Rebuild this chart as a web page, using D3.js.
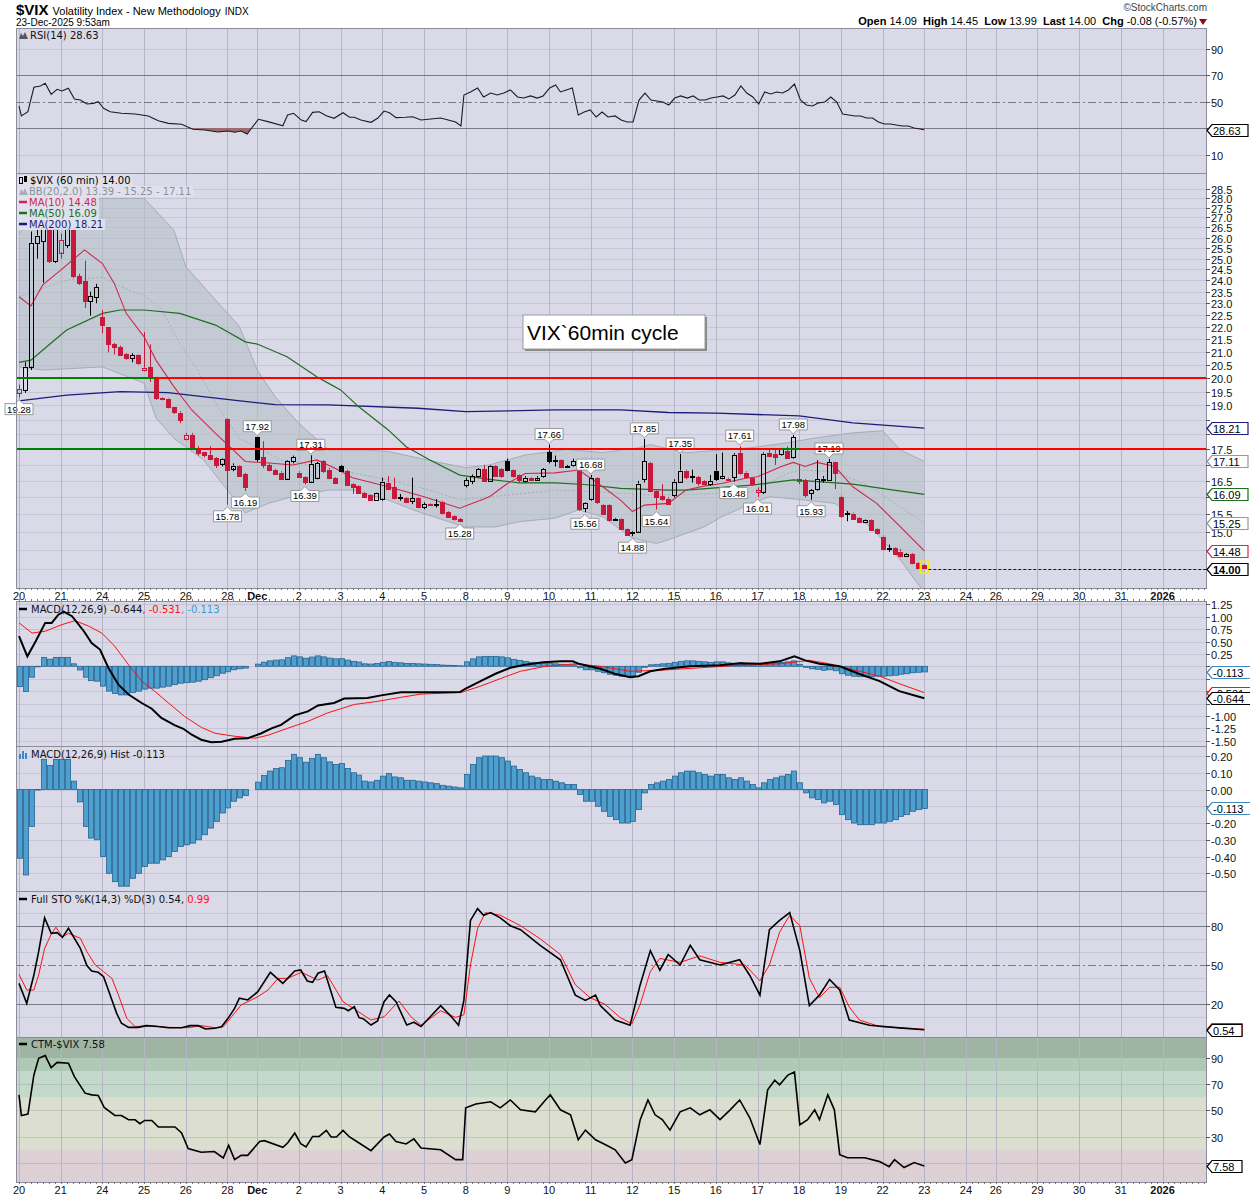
<!DOCTYPE html>
<html><head><meta charset="utf-8">
<script src="https://cdn.jsdelivr.net/npm/d3@7"></script>
<style>body{margin:0;background:#fff}svg{display:block}</style>
</head><body>
<svg id="c" width="1250" height="1200"></svg>
<script>
// ---------------- DATA ----------------
const dayLabels = ['20','21','24','25','26','28','Dec','2','3','4','5','8','9','10','11','12','15','16','17','18','19','22','23','24','26','29','30','31','2026'];
const daySlots  = [0,7,14,21,28,35,40,47,54,61,68,75,82,89,96,103,110,117,124,131,138,145,152,159,164,171,178,185,192];
const boldLabels = ['Dec','2026'];

const prevClose0 = 19.9;
const opens = [19.45,19.56,20.43,25.75,25.8,26.4,24.85,25.3,25.6,26.4, 24.2,23.96,23.07,23.25,22.43,21.99,21.3,21.2,20.9,20.76,
 20.88,20.3,20.4,20.0,19.28,19.22,18.93,18.75,17.86,17.99, 17.5,17.4,17.33,17.21,17.04,18.53,16.9,16.98,16.71,null,
 17.9,17.24,17.0,16.85,16.76,16.57,17.1,16.76,16.63,16.48, 16.6,17.12,16.85,16.6,16.97,16.81,16.4,16.34,16.14,16.06,
 15.92,15.96,16.45,16.3,16.0,15.98,15.9,15.98,15.7,15.8, 15.79,15.87,15.58,15.45,15.37,16.37,16.5,16.64,16.87,16.5,
 16.98,16.87,17.11,16.84,16.67,16.5,16.6,16.55,16.64,17.4, 17.11,17.16,16.97,16.99,17.1,15.66,15.96,16.6,15.78,15.78,
 15.38,15.36,15.09,15.0,15.01,16.53,17.07,16.2,16.03,15.96, 16.07,16.48,16.82,16.64,16.62,16.5,16.4,16.82,16.6,16.57,
 16.62,17.39,16.76,16.6,16.17,16.17,17.39,17.36,17.33,17.45, 17.23,16.48,16.53,16.12,16.25,16.57,16.53,17.08,16.02,15.5,
 15.52,15.4,15.28,15.33,15.07,14.87,14.56,14.55,14.46,14.34, 14.4,14.15,14.09];
const highs = [19.75,20.6,26.3,26.5,26.8,26.7,26.6,26.2,26.6,26.5, 24.3,24.9,23.5,23.85,22.71,22.0,21.35,21.25,20.95,20.95,
 20.9,21.8,21.3,20.05,19.3,19.25,18.95,18.8,18.05,18.05, 17.6,17.42,17.6,17.25,17.22,18.55,17.05,17.0,16.75,null,
 17.92,17.77,17.05,16.88,16.8,17.15,17.3,16.8,16.65,17.31, 17.1,17.15,16.9,16.62,17.0,16.85,16.42,16.36,16.16,16.08,
 16.14,16.6,16.65,16.6,16.1,16.0,16.6,16.0,15.85,15.82, 15.95,15.9,15.6,15.47,15.4,16.6,16.7,16.9,17.0,17.0,
 17.0,16.9,17.2,16.86,16.7,16.65,16.62,16.65,16.9,17.66, 17.3,17.18,17.0,17.2,17.12,15.85,16.68,16.62,15.8,15.8,
 15.4,15.38,15.1,15.02,16.5,17.85,17.1,16.22,16.4,16.0, 16.55,17.35,16.85,16.85,16.65,16.52,16.68,17.35,17.4,16.6,
 17.38,17.61,16.8,16.62,16.3,17.4,17.5,17.55,17.55,17.6, 17.98,17.0,16.56,16.25,17.15,16.65,17.19,17.1,16.05,15.6,
 15.55,15.42,15.35,15.35,15.1,14.9,14.65,14.57,14.52,14.42, 14.42,14.17,14.12];
const lows = [19.28,19.45,20.3,25.0,23.9,24.8,24.8,25.0,25.5,24.1, 23.8,22.8,22.47,23.0,21.74,20.98,20.9,20.85,20.7,20.6,
 20.5,20.25,19.85,19.2,19.18,18.9,18.7,18.38,17.8,17.5, 17.3,17.25,17.15,16.9,16.95,15.78,16.8,16.62,16.19,null,
 17.1,16.9,16.8,16.68,16.55,16.55,17.05,16.6,16.39,16.45, 16.55,16.75,16.55,16.4,16.78,16.35,16.1,16.1,16.0,15.9,
 15.9,15.9,16.25,15.94,15.9,15.83,15.8,15.68,15.65,15.75, 15.7,15.5,15.4,15.32,15.28,16.3,16.4,16.6,16.48,16.48,
 16.65,16.6,16.8,16.6,16.45,16.45,16.5,16.5,16.6,17.05, 16.95,16.9,16.93,16.95,15.6,15.56,15.9,15.8,15.5,15.3,
 15.33,15.05,14.9,14.88,14.98,16.45,16.15,15.64,15.9,15.78, 16.0,16.45,16.55,16.45,16.35,16.38,16.35,16.5,16.55,16.5,
 16.48,16.7,16.58,16.35,16.01,16.1,17.25,17.0,17.3,17.2, 17.2,16.4,16.0,15.93,16.2,16.45,16.5,16.25,15.4,15.3,
 15.35,15.25,15.26,15.03,14.93,14.5,14.45,14.38,14.3,14.32, 14.12,14.0,13.99];
const closes = [19.6,20.43,25.75,26.1,26.5,24.85,26.4,25.9,26.4,24.2, 23.9,23.07,23.3,23.7,22.1,21.3,21.2,20.9,20.76,20.88,
 20.58,20.39,20.0,19.28,19.23,18.93,18.75,18.52,17.99,17.54, 17.37,17.3,17.2,17.0,17.2,16.84,16.98,16.68,16.3,null,
 17.18,16.98,16.85,16.71,16.57,17.13,17.24,16.63,16.48,17.04, 17.06,16.8,16.6,16.46,16.81,16.37,16.32,16.14,16.03,15.92,
 16.12,16.48,16.27,15.96,15.98,15.85,15.98,15.7,15.8,15.77, 15.78,15.55,15.43,15.35,15.3,16.53,16.64,16.87,16.5,16.98,
 16.67,16.64,16.84,16.64,16.5,16.6,16.55,16.6,16.87,17.11, 17.15,16.94,16.96,17.11,15.66,15.82,16.6,15.86,15.53,15.34,
 15.37,15.07,14.92,14.99,16.42,17.11,16.2,16.02,15.95,15.81, 16.48,16.82,16.62,16.63,16.42,16.4,16.5,16.57,16.65,16.53,
 17.33,16.76,16.62,16.42,16.22,17.36,17.3,17.27,17.5,17.23, 17.9,16.55,16.07,16.22,16.55,16.56,17.08,16.72,15.45,15.53,
 15.38,15.28,15.33,15.06,14.97,14.55,14.56,14.4,14.34,14.4, 14.15,14.03,14.00];

const highLabels = [[40,17.92],[49,17.31],[89,17.66],[96,16.68],[105,17.85],[111,17.35],[121,17.61],[130,17.98],[136,17.19]];
const lowLabels  = [[0,19.28],[35,15.78],[38,16.19],[48,16.39],[74,15.28],[95,15.56],[103,14.88],[107,15.64],[120,16.48],[124,16.01],[133,15.93]];

const bbUpper = [[0,26.2],[3,27.12],[7,27.74],[14,27.98],[21,27.98],[26,26.37],[28,24.63],[33,23.14],[37,22.03],[40,20.3],[43,19.31],[47,18.37],[52,17.48],[58,17.48],[62,17.43],[70,17.1],[75,16.91],[79,17.0],[85,17.32],[92,17.5],[98,17.4],[104,17.55],[106,17.66],[112,17.39],[123,17.56],[129,17.72],[134,17.89],[140,18.05],[145,18.12],[148,17.48],[152,17.11]];
const bbLower = [[0,20.42],[4,20.3],[14,20.42],[21,19.81],[23,18.56],[26,17.87],[31,17.16],[35,16.22],[38,15.54],[42,15.83],[47,16.07],[52,16.22],[56,16.22],[62,15.92],[67,15.58],[73,15.24],[75,15.14],[80,15.14],[84,15.29],[90,15.39],[94,15.63],[98,15.43],[103,14.83],[107,14.68],[109,14.78],[115,15.14],[118,15.43],[123,15.82],[126,16.02],[132,15.92],[137,15.82],[143,15.14],[148,14.23],[152,13.39]];
const bbMid = [[0,23.28],[8,24.02],[14,24.14],[19,23.5],[21,23.36],[24,22.71],[27,21.34],[30,20.3],[33,19.09],[37,17.87],[40,17.56],[44,17.16],[52,16.9],[62,16.53],[69,16.22],[74,15.92],[79,16.02],[85,16.12],[90,16.22],[98,16.16],[106,16.07],[115,16.1],[123,16.17],[129,16.73],[131,16.84],[137,16.79],[143,16.32],[148,15.71],[152,15.25]];
const ma10 = [[0,23.28],[2,22.88],[4,23.8],[7,24.47],[11,25.41],[14,24.77],[16,23.87],[18,22.57],[21,21.6],[23,20.68],[26,19.68],[29,18.84],[33,18.03],[36,17.48],[38,17.11],[42,17.06],[46,17.0],[50,17.16],[53,16.9],[56,16.6],[62,16.32],[68,16.02],[74,15.68],[79,16.02],[82,16.42],[85,16.73],[90,16.75],[94,16.84],[98,16.32],[101,15.92],[103,15.58],[105,15.77],[109,15.82],[112,16.22],[115,16.34],[118,16.42],[122,16.58],[124,16.63],[128,16.95],[130,17.08],[132,16.95],[134,17.08],[137,16.95],[140,16.32],[144,15.82],[148,15.14],[152,14.48]];
const ma50 = [[0,20.59],[2,20.68],[5,21.27],[8,21.88],[14,22.57],[17,22.71],[21,22.71],[27,22.57],[33,22.08],[38,21.4],[40,21.31],[45,20.81],[50,20.05],[52,19.8],[54,19.56],[57,18.96],[62,18.15],[65,17.59],[69,17.16],[74,16.68],[79,16.55],[84,16.44],[90,16.44],[95,16.39],[101,16.27],[109,16.22],[112,16.22],[123,16.37],[130,16.53],[140,16.4],[146,16.24],[152,16.09]];
const ma200 = [[0,19.16],[8,19.37],[17,19.5],[25,19.46],[36,19.19],[43,19.03],[52,19.02],[67,18.9],[75,18.78],[90,18.84],[101,18.84],[109,18.75],[117,18.73],[131,18.63],[140,18.39],[152,18.21]];
const redLevels = [20.0, 17.5];
const greenSegs = [[0,23,20.0],[0,30,17.5],[128,131,17.5]];

const rsi = [[0,46.6],[0.4,39.1],[1.5,42.3],[2.5,60.7],[3.6,61.7],[4.4,63.7],[5.4,55.4],[6.4,59.2],[7.2,57.9],[8.3,60.0],[9.3,51.9],[10.3,51.1],[11.4,48.1],[12.5,48.6],[13.3,49.8],[14.2,44.9],[15.3,42.3],[17.2,41.1],[19.5,40.6],[21.7,39.1],[23.4,35.5],[25.1,33.5],[27.3,32.8],[29.2,29.0],[31.2,28.5],[33.4,27.0],[35.1,27.7],[36.2,26.8],[37.3,27.7],[38.3,25.5],[40.2,36.6],[41.8,34.8],[44.3,31.7],[45.1,39.8],[46.1,41.1],[47.4,36.0],[48.2,34.8],[49.3,41.8],[50.4,42.3],[51.6,39.3],[52.9,37.3],[54.4,41.5],[55.5,38.1],[56.3,38.1],[57.4,36.0],[59.1,34.3],[60.2,37.3],[61.3,42.8],[62.2,41.5],[63.3,37.8],[64.9,38.1],[66.1,38.5],[67.5,36.0],
 [70.8,37.5],[73.3,34.5],[74.2,31.5],[74.7,54.9],[75.8,57.2],[77.0,60.2],[78.0,53.4],[79.2,56.4],[80.3,54.9],[81.4,56.4],[82.5,58.7],[83.7,53.4],[84.7,52.6],[85.9,54.2],[87.0,52.6],[88.0,54.2],[89.1,60.2],[90.1,62.5],[90.9,57.2],[91.9,58.7],[92.9,60.2],[93.9,39.8],[94.9,42.1],[95.9,43.6],[96.9,38.3],[97.9,42.1],[98.9,38.3],[100.1,39.1],[101.1,36.0],[102.1,34.5],[103.1,34.5],[104.1,51.1],[105.1,56.4],[106.1,51.1],[107.1,50.4],[108.1,49.6],[109.1,47.4],[110.1,52.6],[111.1,54.2],[112.2,52.6],[113.2,54.2],[114.2,51.1],[115.2,51.1],[116.2,52.6],[117.2,53.4],[118.2,54.2],[119.2,51.9],[120.2,54.9],[121.2,61.7],[122.2,56.4],[123.2,53.4],[124.2,48.1],[125.2,57.2],[126.2,55.7],[127.2,57.2],[128.2,56.4],[129.2,58.7],[130.2,63.2],[131.2,51.1],[132.2,47.4],[133.2,46.6],[134.2,48.9],[135.3,49.6],[136.3,53.4],[137.3,49.6],[138.3,40.6],[139.3,39.8],[140.3,39.1],[141.3,39.1],[142.3,37.5],[143.3,37.5],[144.3,34.5],[145.3,33.0],[146.3,33.0],[147.3,32.3],[148.3,31.5],[149.3,31.5],[150.3,30.0],[151.3,29.2],[152,28.63]];

const macdLine = [[0,0.606],[1.4,0.20],[2.8,0.505],[4.4,0.875],[5.5,0.875],[6.6,1.04],[7.5,1.1],[8.9,1.01],[10.9,0.707],[12.2,0.47],[13.6,0.337],[15,-0.03],[16.7,-0.37],[18.4,-0.57],[20.6,-0.74],[22.3,-0.855],[23.9,-1.04],[26.2,-1.19],[27.6,-1.26],[29,-1.38],[30.6,-1.48],[32.3,-1.53],[34,-1.52],[36.2,-1.46],[38.4,-1.45],[40.7,-1.35],[42.4,-1.25],[44,-1.18],[46.3,-0.99],[48.5,-0.91],[50.2,-0.79],[52.9,-0.74],[54.6,-0.65],[58.5,-0.64],[60.8,-0.586],[64.1,-0.525],[67.5,-0.525],[74,-0.52],[75,-0.45],[77.5,-0.3],[80,-0.15],[82.5,-0.03],[85,0.03],[88,0.08],[91,0.1],[93,0.1],[94,0.05],[97.6,-0.05],[100,-0.15],[102.6,-0.22],[104,-0.2],[106,-0.1],[108.5,-0.05],[112.7,0.0],[117.7,0.02],[121,0.06],[124.4,0.05],[127.7,0.1],[130.2,0.2],[132,0.12],[134.4,0.05],[137.8,0.0],[141,-0.15],[144.5,-0.3],[147.8,-0.5],[152,-0.644]];
const signalLine = [[0,0.875],[2.2,0.67],[4.4,0.707],[7.2,0.84],[9.4,0.92],[11.7,0.81],[13.9,0.67],[16.1,0.40],[18.4,0.03],[20.6,-0.30],[22.8,-0.505],[25.1,-0.74],[27.8,-1.01],[30.6,-1.23],[32.9,-1.35],[36.2,-1.41],[39.6,-1.45],[41.8,-1.39],[45.1,-1.25],[48.5,-1.11],[51.8,-0.94],[56.3,-0.77],[60.2,-0.707],[64.1,-0.626],[67.5,-0.56],[74.2,-0.53],[77.5,-0.4],[80.8,-0.25],[84.2,-0.1],[88.4,0.0],[93.4,0.05],[97.6,0.0],[102.6,-0.1],[107.6,-0.08],[114.3,-0.03],[121,0.02],[127.7,0.05],[132.7,0.12],[136.1,0.05],[139.4,-0.05],[144.5,-0.2],[147.8,-0.35],[152,-0.531]];
const hist = [-0.41,-0.51,-0.22,0,0.18,0.144,0.18,0.18,0.18,0.05, -0.074,-0.22,-0.29,-0.30,-0.40,-0.50,-0.55,-0.577,-0.577,-0.53,
 -0.50,-0.46,-0.44,-0.44,-0.42,-0.40,-0.37,-0.34,-0.33,-0.32, -0.30,-0.27,-0.23,-0.19,-0.14,-0.11,-0.07,-0.05,-0.036,null,
 0.044,0.084,0.11,0.125,0.13,0.174,0.21,0.19,0.163,0.186, 0.21,0.19,0.165,0.15,0.155,0.125,0.10,0.086,0.05,0.045,
 0.055,0.08,0.095,0.075,0.07,0.055,0.055,0.05,0.045,0.04, 0.035,0.025,0.02,0.015,0.01,0.09,0.15,0.19,0.2,0.2,
 0.2,0.19,0.17,0.14,0.12,0.1,0.08,0.07,0.06,0.06, 0.05,0.04,0.03,0.03,-0.03,-0.07,-0.07,-0.1,-0.13,-0.16,
 -0.18,-0.2,-0.2,-0.19,-0.12,-0.02,0.03,0.04,0.05,0.06, 0.08,0.1,0.11,0.11,0.1,0.09,0.08,0.09,0.09,0.07,
 0.06,0.07,0.05,0.03,0.01,0.04,0.06,0.07,0.08,0.09, 0.11,0.04,-0.02,-0.05,-0.06,-0.08,-0.07,-0.09,-0.15,-0.18,
 -0.2,-0.21,-0.21,-0.21,-0.2,-0.2,-0.19,-0.18,-0.16,-0.15, -0.13,-0.12,-0.113];

const stoK = [[0,36.0],[1.3,20.8],[2.5,42.4],[3.3,60.2],[4.3,86.1],[5.4,74.2],[6.4,74.7],[7.3,71.1],[8.3,78.0],[9.3,70.4],[10.3,62.7],[11.4,49.5],[12.2,45.4],[13.3,44.4],[14.2,41.1],[15.3,27.1],[16.4,13.1],[17.2,5.5],[18.4,2.4],[20,2.4],[21.4,3.7],[23.3,3.1],[25.1,2.1],[27.3,2.1],[28.7,3.7],[30.1,3.7],[31.3,1.1],[32.9,1.7],[34,2.9],[35.1,9.3],[36.2,16.9],[37.0,24.6],[38.4,23.3],[40.1,29.6],[42.2,44.4],[44.3,36.0],[46.3,45.4],[47.3,46.2],[48.4,37.8],[49.3,36.8],[50.2,43.7],[51.3,45.4],[53.2,17.7],[54.6,16.9],[55.3,15.1],[56.3,18.2],[57.1,9.8],[57.8,9.0],[59.1,4.2],[60.2,7.3],[61.3,22.0],[62.2,27.1],[63.3,22.0],[65.1,4.2],[66.3,6.3],[67.5,3],
 [70.8,19],[72.5,11],[73.8,4],[74.7,23],[75.8,84],[77.0,93],[78.0,88],[79.2,90],[80.8,86],[82.5,80],[84.2,77],[87.5,65],[90.9,54],[93.4,27],[95.1,23],[96.8,27],[97.6,19],[100.1,8],[102.6,4],[104.3,35],[106.0,61],[107.6,46],[109.0,58],[111.0,50],[112.7,65],[114.3,54],[117.7,50],[121.0,54],[122.7,42],[124.4,27],[126.0,77],[127.7,84],[129.4,90],[131.1,61],[132.7,19],[134.4,27],[136.1,39],[137.8,31],[139.4,8],[142.8,4],[147.8,2],[152,0.54]];
const stoD = [[0,42.9],[1.3,30.9],[2.5,30.9],[3.3,42.4],[4.3,62.7],[5.4,73.4],[6.2,78.8],[7.3,71.5],[8.3,74.2],[10.3,70.4],[11.4,60.2],[12.8,50.0],[14.2,44.9],[15.6,39.8],[16.7,27.1],[18.1,9.3],[19.5,2.9],[21.7,3.7],[25.1,2.4],[28.4,2.1],[30.6,3.7],[32.9,2.1],[34.3,2.9],[35.7,10.5],[37.3,19.5],[40.1,25.8],[41.8,30.9],[43.5,39.8],[45.1,39.8],[47.4,44.4],[50.2,38.5],[51.8,41.8],[54.4,22.0],[56.3,16.4],[59.1,8.0],[61.3,10.5],[63.8,22.5],[65.8,10.5],[67.5,4],
 [70.8,15],[73.3,10],[74.7,12],[75.8,50],[77.0,78],[78.3,90],[80.8,88],[84.2,80],[87.5,70],[90.9,58],[93.4,35],[95.9,25],[98.4,20],[100.9,10],[102.9,5],[104.3,20],[106.0,45],[107.6,55],[111.0,52],[114.3,57],[117.7,52],[121.9,50],[124.4,38],[126.0,50],[127.7,75],[129.4,88],[131.1,80],[132.7,40],[134.4,25],[136.1,33],[137.8,33],[139.4,18],[141.1,8],[144.5,3],[152,0.99]];
const ctm = [[0,61.9],[0.4,46.2],[1.5,47.2],[2.5,77.1],[3.3,89.8],[4.4,91.8],[5.4,82.6],[6.4,86.7],[8.3,86.0],[9.3,75.8],[11.1,63.2],[12.2,61.9],[13.3,61.4],[14.3,52.3],[16.1,46.2],[17.2,46.2],[18.4,42.9],[19.5,42.9],[20.3,39.9],[21.1,42.4],[22.3,42.4],[23.4,37.4],[26.2,37.4],[27.3,32.8],[28.4,20.9],[30.6,18.1],[32.8,18.7],[34.3,13.8],[35.2,23.4],[36.2,12.5],[37.3,15.8],[38.4,15.8],[40.4,26.4],[41.2,27.0],[44.3,21.9],[45.1,25.2],[46.3,32.8],[47.3,24.7],[48.2,22.2],[49.3,30.2],[50.4,30.2],[51.6,34.8],[52.4,29.8],[53.3,29.8],[54.4,34.8],[55.5,29.8],[57.1,25.2],[59.1,19.4],[61.3,29.8],[62.2,32.0],[63.3,26.4],[65.0,24.5],[66.3,28.3],[67.5,21.4],
 [70.8,20],[73.3,12.5],[74.5,12.5],[75.0,52],[76.7,55],[79.2,56.6],[80.8,52],[82.5,58],[84.2,50.5],[86.7,49],[88.4,58],[89.2,62],[90.9,50.5],[92.6,46.7],[93.9,27.7],[95.1,35],[96.8,27.7],[98.4,24],[100.1,20],[101.8,10],[102.9,12.5],[104.3,43],[105.6,58],[106.8,46.7],[108.0,43],[109.3,35],[111.0,49],[112.7,52],[114.3,46.7],[116.0,50.5],[117.7,43],[119.4,50.5],[121.0,58],[122.7,44.4],[124.4,24],[125.7,65.7],[126.9,73],[127.7,69.5],[129.1,77],[130.2,79.4],[131.1,39],[132.4,43],[133.6,50.5],[134.4,43],[135.8,62],[136.9,50.5],[137.8,16.3],[139.1,14],[142.0,14],[144.5,11],[146.1,7.2],[147.0,12.5],[148.6,6.5],[150.3,10.3],[152,7.58]];
const ctmZones = [106,90,80,60,20,-5];

const rsiTicks = [90,70,50,30,10];
const priceTicks = d3.range(14,28.51,0.5);
const macdTicks = d3.range(-1.5,1.26,0.25);
const histTicks = [0.2,0.1,0,-0.1,-0.2,-0.3,-0.4,-0.5];
const stoTicks = [80,50,20];
const ctmTicks = [90,70,50,30,10];

// ---------------- LAYOUT ----------------
const svg = d3.select('#c');
const FA = '"Liberation Sans", Arial, sans-serif';
const FL = '"DejaVu Sans", Verdana, sans-serif';
const BG = '#d9d9e8', HG = '#c6c6d8', VG = '#b5b5c8', BORDER = '#8c8c9c';
const RED = '#c8193c';
const L = 16, R = 1206;
const P = {rsi:[28,173], price:[173,588], macd:[601,746], hist:[746,891], sto:[891,1037], ctm:[1037,1182]};

const x = d3.scaleLinear().domain([0,152]).range([19,924.3]);
const yR = d3.scaleLinear().domain([30,70]).range([128,75]);
const yP = d3.scaleLog().domain([14,20]).range([568.8,378]);
const yM = d3.scaleLinear().domain([1.25,-1.5]).range([604.3,740.7]);
const yH = d3.scaleLinear().domain([0.2,-0.5]).range([756,873.3]);
const yS = d3.scaleLinear().domain([80,20]).range([925.7,1004.3]);
const yC = d3.scaleLinear().domain([90,30]).range([1058,1136.7]);

svg.append('rect').attr('width',1250).attr('height',1200).attr('fill','#fff');
const defs = svg.append('defs');
Object.entries(P).forEach(([k,[a,b]])=>{
  defs.append('clipPath').attr('id','clip-'+k).append('rect').attr('x',L).attr('y',a).attr('width',R-L).attr('height',b-a);
  svg.append('rect').attr('x',L).attr('y',a).attr('width',R-L).attr('height',b-a).attr('fill',BG);
});
const G = {};
Object.keys(P).forEach(k=>{ G[k] = svg.append('g').attr('clip-path','url(#clip-'+k+')'); });
const gLabels = svg.append('g');
const gOver = svg.append('g').attr('clip-path','url(#clip-price)');

const zoneColors = ['#9fb4a3','#b0c8b6','#c3d9c9','#dcdecf','#ddd0d5'];
for(let i=0;i<5;i++){
  G.ctm.append('rect').attr('x',L).attr('width',R-L).attr('y',yC(ctmZones[i])).attr('height',yC(ctmZones[i+1])-yC(ctmZones[i])).attr('fill',zoneColors[i]);
}

function hgrid(g, ticks, y, col){ ticks.forEach(t=>g.append('line').attr('x1',L).attr('x2',R).attr('y1',Math.round(y(t))+0.5).attr('y2',Math.round(y(t))+0.5).attr('stroke',col||HG)); }
hgrid(G.rsi,[10,90],yR); hgrid(G.price,priceTicks,yP); hgrid(G.macd,macdTicks,yM); hgrid(G.hist,histTicks,yH);
hgrid(G.sto,[10,30,40,60,70,90],yS); hgrid(G.ctm,[10,30,50,70],yC,'rgba(150,150,160,0.35)');

Object.keys(P).forEach(k=>{
  daySlots.forEach(s=>{ const xx=Math.round(x(s))+0.5; G[k].append('line').attr('x1',xx).attr('x2',xx).attr('y1',P[k][0]).attr('y2',P[k][1]).attr('stroke',VG); });
});

function level(g,y,v,dash){ g.append('line').attr('x1',L).attr('x2',R).attr('y1',Math.round(y(v))+0.5).attr('y2',Math.round(y(v))+0.5).attr('stroke','#7a7a86').attr('stroke-dasharray',dash||null); }
level(G.rsi,yR,70); level(G.rsi,yR,30); level(G.rsi,yR,50,'8,3,2,3');
level(G.sto,yS,80); level(G.sto,yS,20); level(G.sto,yS,50,'8,3,2,3');

const line = (y)=>d3.line().x(d=>x(d[0])).y(d=>y(d[1]));

// ---------- RSI ----------
defs.append('clipPath').attr('id','rsi30').append('rect').attr('x',L).attr('y',yR(30)).attr('width',R-L).attr('height',P.rsi[1]-yR(30));
G.rsi.append('path').datum(rsi).attr('d',d3.area().x(d=>x(d[0])).y0(yR(30)).y1(d=>yR(d[1]))).attr('fill','#9d6b6e').attr('clip-path','url(#rsi30)');
G.rsi.append('path').datum(rsi).attr('d',line(yR)).attr('fill','none').attr('stroke','#1a1a2a').attr('stroke-width',1.1);

// ---------- PRICE ----------
const gp = G.price;
const bandPts = bbUpper.map(d=>[x(d[0]),yP(d[1])]).concat(bbLower.slice().reverse().map(d=>[x(d[0]),yP(d[1])]));
gp.append('path').attr('d','M'+bandPts.map(p=>p.join(',')).join('L')+'Z').attr('fill','rgba(180,192,198,0.6)').attr('stroke','none');
gp.append('path').datum(bbUpper).attr('d',line(yP)).attr('fill','none').attr('stroke','#a4adb6').attr('stroke-width',1);
gp.append('path').datum(bbLower).attr('d',line(yP)).attr('fill','none').attr('stroke','#a4adb6').attr('stroke-width',1);
gp.append('path').datum(bbMid).attr('d',line(yP)).attr('fill','none').attr('stroke','#a8aeb8').attr('stroke-dasharray','2,2');
gp.append('path').datum(ma200).attr('d',line(yP)).attr('fill','none').attr('stroke','#1c1c7a').attr('stroke-width',1.3);
gp.append('path').datum(ma50).attr('d',line(yP)).attr('fill','none').attr('stroke','#1e6e1e').attr('stroke-width',1.2);
gp.append('path').datum(ma10).attr('d',line(yP)).attr('fill','none').attr('stroke','#d0284c').attr('stroke-width',1.1);

let prev = prevClose0;
closes.forEach((c,i)=>{
  if(c===null) return;
  const o=opens[i], h=highs[i], l=lows[i];
  const col = c < prev ? RED : '#000';
  prev = c;
  const xc = Math.round(x(i))+0.5;
  const top = Math.min(yP(o),yP(c)), bot = Math.max(yP(o),yP(c));
  const hollow = c >= o;
  gp.append('line').attr('x1',xc).attr('x2',xc).attr('y1',yP(h)).attr('y2',top).attr('stroke',col);
  gp.append('line').attr('x1',xc).attr('x2',xc).attr('y1',bot).attr('y2',yP(l)).attr('stroke',col);
  gp.append('rect').attr('x',xc-2).attr('y',Math.round(top)+0.5).attr('width',4).attr('height',Math.max(1,Math.round(bot-top)))
    .attr('fill',hollow?'none':col).attr('stroke',col).attr('stroke-width',1);
});
gp.append('rect').attr('x',x(152)-4).attr('y',yP(14.09)-4).attr('width',8).attr('height',yP(13.99)-yP(14.09)+8).attr('fill','none').attr('stroke','#f0f000').attr('stroke-width',1.5);

function callout(s,v,above){
  const xc=x(s), yt=yP(v), w=28, h=11;
  const g=gLabels.append('g');
  if(above){
    const by=yt-16;
    g.append('path').attr('d',`M${xc-w/2},${by}h${w}v${h}h${-w/2+4}l-4,4l-4,-4h${-w/2+4}z`).attr('fill','#fff').attr('stroke','#999');
    g.append('text').attr('x',xc).attr('y',by+9).attr('text-anchor','middle').style('font','9.5px '+FA).text(v.toFixed(2));
  } else {
    const by=yt+6;
    g.append('path').attr('d',`M${xc-w/2},${by}h${w/2-4}l4,-4l4,4h${w/2-4}v${h}h${-w}z`).attr('fill','#fff').attr('stroke','#999');
    g.append('text').attr('x',xc).attr('y',by+9).attr('text-anchor','middle').style('font','9.5px '+FA).text(v.toFixed(2));
  }
}
highLabels.forEach(d=>callout(d[0],d[1],true));
lowLabels.forEach(d=>callout(d[0],d[1],false));

redLevels.forEach(v=>gOver.append('line').attr('x1',L).attr('x2',R).attr('y1',Math.round(yP(v))).attr('y2',Math.round(yP(v))).attr('stroke','#ff0000').attr('stroke-width',2));
greenSegs.forEach(d=>gOver.append('line').attr('x1',d[0]===0?L:x(d[0])).attr('x2',x(d[1])).attr('y1',Math.round(yP(d[2]))).attr('y2',Math.round(yP(d[2]))).attr('stroke','#008000').attr('stroke-width',2));
gOver.append('line').attr('x1',x(152)+4).attr('x2',R).attr('y1',Math.round(yP(14))+0.5).attr('y2',Math.round(yP(14))+0.5).attr('stroke','#0000ee').attr('stroke-dasharray','3,2');
gOver.append('rect').attr('x',525).attr('y',317).attr('width',182).attr('height',34).attr('fill','#888');
gOver.append('rect').attr('x',523).attr('y',315).attr('width',182).attr('height',34).attr('fill','#fff').attr('stroke','#999');
gOver.append('text').attr('x',527).attr('y',340).style('font','21px '+FA).attr('fill','#000').text('VIX`60min cycle');

// ---------- MACD ----------
function histBars(g,y){
  hist.forEach((v,i)=>{ if(v===null) return;
    const y0=y(0), y1=y(v);
    g.append('rect').attr('x',Math.round(x(i))-2+0.5).attr('y',Math.min(y0,y1)).attr('width',5).attr('height',Math.max(0.5,Math.abs(y1-y0))).attr('fill','#4d9fcf').attr('stroke','#25648f').attr('stroke-width',0.8);
  });
}
histBars(G.macd,yM);
G.macd.append('path').datum(signalLine).attr('d',line(yM)).attr('fill','none').attr('stroke','#ff1010').attr('stroke-width',1);
G.macd.append('path').datum(macdLine).attr('d',line(yM)).attr('fill','none').attr('stroke','#000').attr('stroke-width',2);
histBars(G.hist,yH);

G.sto.append('path').datum(stoD).attr('d',line(yS)).attr('fill','none').attr('stroke','#ff1010').attr('stroke-width',1);
G.sto.append('path').datum(stoK).attr('d',line(yS)).attr('fill','none').attr('stroke','#000').attr('stroke-width',1.6);
G.ctm.append('path').datum(ctm).attr('d',line(yC)).attr('fill','none').attr('stroke','#000').attr('stroke-width',1.6);

Object.values(P).forEach(([a,b])=>svg.append('rect').attr('x',L+0.5).attr('y',a+0.5).attr('width',R-L).attr('height',b-a).attr('fill','none').attr('stroke',BORDER));

// ---------- LEGENDS ----------
function legend(xx,y,parts,bg){
  const g=svg.append('g');
  const r=g.append('rect');
  const t=g.append('text').attr('x',xx).attr('y',y).style('font','10px '+FL);
  parts.forEach(p=>t.append('tspan').attr('fill',p[1]).text(p[0]));
  if(bg){ const w=t.node().getComputedTextLength(); r.attr('x',L+1).attr('y',y-9).attr('width',xx+w-L+1).attr('height',11).attr('fill',bg); }
  return g;
}
function dash(y,col){ svg.append('line').attr('x1',19).attr('x2',27).attr('y1',y).attr('y2',y).attr('stroke',col).attr('stroke-width',2.5); }
function mountain(y,col){ svg.append('path').attr('d',`M19,${y+1}L21,${y-5}L23,${y-2}L25,${y-6}L28,${y+1}Z`).attr('fill',col); }

mountain(38,'#556');
legend(30,39,[['RSI(14) 28.63','#111']]);
const LBG='rgba(226,226,238,0.92)';
legend(30,184,[['$VIX (60 min) 14.00','#000']],LBG);
svg.append('rect').attr('x',19.5).attr('y',177.5).attr('width',3).attr('height',6).attr('fill','none').attr('stroke','#000');
svg.append('rect').attr('x',24).attr('y',176).attr('width',3).attr('height',6).attr('fill','#000');
legend(29,195,[['BB(20,2.0) 13.39 - 15.25 - 17.11','#8a9298']],LBG);
mountain(194,'#a8aeb6');
legend(29,206,[['MA(10) 14.48','#d0284c']],LBG); dash(202,'#d0284c');
legend(29,217,[['MA(50) 16.09','#1e6e1e']],LBG); dash(213,'#1e6e1e');
legend(29,228,[['MA(200) 18.21','#1c1c7a']],LBG); dash(224,'#1c1c7a');

legend(31,613,[['MACD(12,26,9) -0.644','#111'],[', -0.531','#ff1010'],[', -0.113','#3c9ad0']]); dash(609,'#000');
svg.append('rect').attr('x',19).attr('y',754).attr('width',2).attr('height',5).attr('fill','#3c88c0');
svg.append('rect').attr('x',22).attr('y',751).attr('width',2).attr('height',8).attr('fill','#3c88c0');
svg.append('rect').attr('x',25).attr('y',753).attr('width',2).attr('height',6).attr('fill','#3c88c0');
legend(31,758,[['MACD(12,26,9) Hist -0.113','#111']]);
legend(31,903,[['Full STO %K(14,3) %D(3) 0.54, ','#111'],['0.99','#ff1010']]); dash(899,'#000');
legend(31,1048,[['CTM-$VIX 7.58','#111']]); dash(1044,'#000');

// ---------- X AXES ----------
function xaxis(y){
  daySlots.forEach((s,i)=>{
    const b = boldLabels.includes(dayLabels[i]);
    svg.append('text').attr('x',x(s)).attr('y',y).attr('text-anchor','middle').style('font',(b?'bold ':'')+'11px '+FA).attr('fill','#111').text(dayLabels[i]);
  });
}
function xticks(y,dir){
  for(let s=0;s<=199;s++){ const xx=Math.round(x(s))+0.5; if(xx>R) break; svg.append('line').attr('x1',xx).attr('x2',xx).attr('y1',y).attr('y2',y+dir*2).attr('stroke','#777'); }
}
xaxis(600); xaxis(1194);
xticks(588,1); xticks(601,-1); xticks(1182,1);

// ---------- RIGHT AXES ----------
const boxes = [
  [yR(28.63),'28.63','#000'],
  [yP(18.21),'18.21','#1c1c7a'],[yP(17.11),'17.11','#8a9aa8'],[yP(16.09),'16.09','#1e6e1e'],[yP(15.25),'15.25','#8a9aa8'],[yP(14.48),'14.48','#d0284c'],[yP(14.00),'14.00','#000',true],
  [yM(-0.113),'-0.113','#3c88c0'],[yM(-0.531),'-0.531','#ff1010'],[yM(-0.644),'-0.644','#000'],
  [yH(-0.113),'-0.113','#3c88c0'],
  [yS(0.99),'','#ff1010'],[yS(0.54),'0.54','#000'],
  [yC(7.58),'7.58','#000']];
function yaxis(ticks,y,fmt){
  ticks.forEach(t=>{ const yy=Math.round(y(t))+0.5;
    svg.append('line').attr('x1',R).attr('x2',R+4).attr('y1',yy).attr('y2',yy).attr('stroke','#555');
    if(boxes.some(b=>Math.abs(b[0]-yy)<8.4)) return;
    svg.append('text').attr('x',R+5).attr('y',yy+4).style('font','11px '+FA).attr('fill','#111').text(fmt(t));
  });
}
yaxis(rsiTicks,yR,d=>d);
yaxis(priceTicks,yP,d=>d.toFixed(1));
yaxis(macdTicks,yM,d=>d.toFixed(2));
yaxis(histTicks,yH,d=>d.toFixed(2));
yaxis(stoTicks,yS,d=>d);
yaxis(ctmTicks,yC,d=>d);

function vbox(yv,txt,col,bold){
  const w = Math.max(4,txt.length)*6+6, y=Math.round(yv)+0.5;
  svg.append('path').attr('d',`M${R+1},${y}l5,-6h${w}v12h${-w}z`).attr('fill','#fff').attr('stroke',col).attr('stroke-width',1.2);
  if(txt) svg.append('text').attr('x',R+7).attr('y',y+4).style('font',(bold?'bold ':'')+'11px '+FA).attr('fill','#000').text(txt);
}
boxes.forEach(b=>vbox(b[0],b[1],b[2],b[3]));

// ---------- HEADER ----------
const hd = svg.append('text').attr('x',16).attr('y',15);
hd.append('tspan').style('font','bold 15px '+FA).text('$VIX');
hd.append('tspan').style('font','11px '+FA).attr('dx',4).text('Volatility Index - New Methodology');
hd.append('tspan').style('font','10px '+FA).attr('dx',4).text('INDX');
svg.append('text').attr('x',16).attr('y',26).style('font','10px '+FA).text('23-Dec-2025 9:53am');
svg.append('text').attr('x',1207).attr('y',11).attr('text-anchor','end').style('font','10px '+FA).attr('fill','#444').text('©StockCharts.com');
const qt = svg.append('text').attr('x',1197).attr('y',25).attr('text-anchor','end').style('font','11px '+FA).attr('xml:space','preserve');
[['Open ',1],['14.09  ',0],['High ',1],['14.45  ',0],['Low ',1],['13.99  ',0],['Last ',1],['14.00  ',0],['Chg ',1],['-0.08 (-0.57%)',0]].forEach(p=>qt.append('tspan').style('font-weight',p[1]?'bold':'normal').text(p[0]));
svg.append('path').attr('d','M1199,19h8l-4,6z').attr('fill','#8b0a1a');
</script>
</body></html>
